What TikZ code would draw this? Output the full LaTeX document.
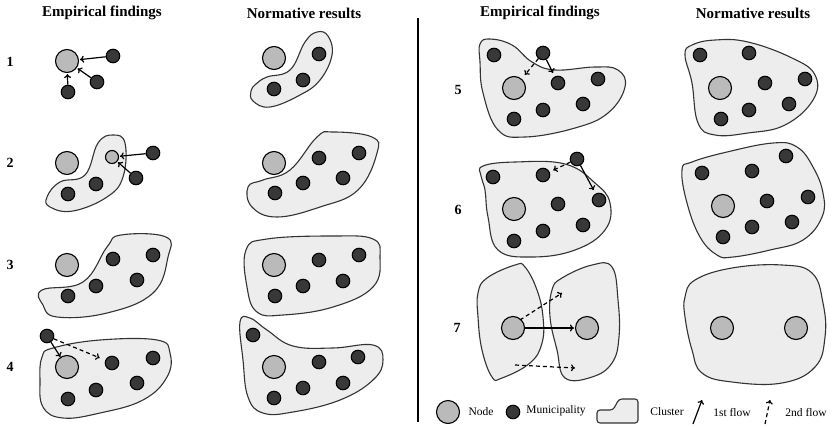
\documentclass[tikz,border=0pt]{standalone}
\usepackage{fontspec}
\setmainfont{Liberation Serif}
\usetikzlibrary{arrows.meta}
\begin{document}
\begin{tikzpicture}[x=1pt,y=-1pt,
  cl/.style={draw=black!80,fill=black!7,line width=1.1pt},
  nd/.style={circle,draw=black,fill=black!27,line width=1.1pt,minimum size=23pt,inner sep=0pt},
  snd/.style={circle,draw=black,fill=black!27,line width=1.1pt,minimum size=13pt,inner sep=0pt},
  mu/.style={circle,draw=black,fill=black!78,line width=1.1pt,minimum size=13.5pt,inner sep=0pt},
  fl/.style={-{To[length=4pt,width=7pt]},line width=1.2pt,shorten >=1pt},
  fltwo/.style={fl,dashed,dash pattern=on 4pt off 3pt},
  ttl/.style={font=\fontsize{15}{18}\selectfont\bfseries},
  rl/.style={font=\fontsize{14}{16}\selectfont\bfseries},
  lg/.style={font=\fontsize{11.5}{13}\selectfont}]
\useasboundingbox (0,0) rectangle (832,426);
\fill[white] (0,0) rectangle (832,426);

% titles
\node[ttl] (t1) at (102,13) {Empirical findings};
\node[ttl] (t2) at (304,13) {Normative results};
\node[ttl] (t3) at (540,13) {Empirical findings};
\node[ttl] (t4) at (753,13) {Normative results};
\coordinate (dtop) at (418,18);
\coordinate (dbot) at (418,422);
\draw[line width=1.5pt] (dtop) -- (dbot);

% row labels
\node[rl] (l1) at (10,62) {1};
\node[rl] (l2) at (10,163) {2};
\node[rl] (l3) at (10,265) {3};
\node[rl] (l4) at (10,367) {4};
\node[rl] (l5) at (458,90) {5};
\node[rl] (l6) at (458,210) {6};
\node[rl] (l7) at (457,328) {7};

% ---------- Row 1
\node[nd] (a1n) at (67,61) {};
\node[mu] (a1m1) at (113,56) {};
\node[mu] (a1m2) at (97,82) {};
\node[mu] (a1m3) at (68,92) {};
\draw[fl] (a1m1) -- (a1n);
\draw[fl] (a1m2) -- (a1n);
\draw[fl] (a1m3) -- (a1n);

\draw[cl] plot[smooth cycle,tension=0.7] coordinates {(251,91) (256,84) (267,77) (290,70) (305,42) (317,32) (328,36) (332,55) (320,80) (300,95) (270,107) (253,101)};
\node[nd] (b1n) at (274,58) {};
\node[mu] (b1m1) at (319,54) {};
\node[mu] (b1m2) at (303,80) {};
\node[mu] (b1m3) at (274,89) {};

% ---------- Row 2
\draw[cl] plot[smooth cycle,tension=0.7] coordinates {(47,197) (60,182) (85,175) (98,143) (113,135) (125,143) (123,177) (107,197) (73,211) (50,207)};
\node[nd] (a2n) at (67,163) {};
\node[snd] (a2s) at (112,157) {};
\node[mu] (a2m1) at (153,153) {};
\node[mu] (a2m2) at (136,178) {};
\node[mu] (a2m3) at (96,184) {};
\node[mu] (a2m4) at (68,194) {};
\draw[fl] (a2m1) -- (a2s);
\draw[fl] (a2m2) -- (a2s);

\draw[cl] plot[smooth cycle,tension=0.7] coordinates {(248,187) (263,180) (290,170) (317,137) (333,132) (372,137) (377,153) (358,190) (320,207) (277,217) (252,207)};
\node[nd] (b2n) at (274,163) {};
\node[mu] (b2m1) at (319,158) {};
\node[mu] (b2m2) at (359,153) {};
\node[mu] (b2m3) at (303,183) {};
\node[mu] (b2m4) at (343,178) {};
\node[mu] (b2m5) at (275,193) {};

% ---------- Row 3
\draw[cl] plot[smooth cycle,tension=0.7] coordinates {(42,290) (83,282) (107,247) (121,235) (166,237) (168,257) (153,293) (107,313) (57,317) (43,305)};
\node[nd] (a3n) at (67,265) {};
\node[mu] (a3m1) at (113,259) {};
\node[mu] (a3m2) at (153,255) {};
\node[mu] (a3m3) at (96,286) {};
\node[mu] (a3m4) at (137,280) {};
\node[mu] (a3m5) at (68,296) {};

\draw[cl] plot[smooth cycle,tension=0.7] coordinates {(246,250) (267,239) (333,236) (373,239) (380,257) (373,287) (333,307) (283,315) (257,312) (247,287)};
\node[nd] (b3n) at (274,265) {};
\node[mu] (b3m1) at (319,260) {};
\node[mu] (b3m2) at (359,255) {};
\node[mu] (b3m3) at (303,286) {};
\node[mu] (b3m4) at (343,281) {};
\node[mu] (b3m5) at (275,296) {};

% ---------- Row 4
\draw[cl] plot[smooth cycle,tension=0.7] coordinates {(42,357) (53,348) (100,340) (157,340) (170,353) (167,377) (143,400) (100,413) (63,418) (43,407) (40,380)};
\node[nd] (a4n) at (67,367) {};
\node[mu] (a4o) at (47,336) {};
\node[mu] (a4m1) at (112,363) {};
\node[mu] (a4m2) at (153,358) {};
\node[mu] (a4m3) at (96,390) {};
\node[mu] (a4m4) at (137,383) {};
\node[mu] (a4m5) at (68,399) {};
\draw[fl,shorten >=0pt] (a4o) -- (a4n);
\draw[fltwo,shorten >=6pt] (a4o) -- (a4m1);

\draw[cl] plot[smooth cycle,tension=0.7] coordinates {(240,322) (250,318) (267,330) (293,346) (333,348) (373,345) (383,360) (373,380) (340,400) (293,412) (263,413) (248,397) (243,360)};
\node[nd] (b4n) at (274,367) {};
\node[mu] (b4o) at (253,335) {};
\node[mu] (b4m1) at (319,362) {};
\node[mu] (b4m2) at (358,357) {};
\node[mu] (b4m3) at (303,388) {};
\node[mu] (b4m4) at (343,383) {};
\node[mu] (b4m5) at (274,398) {};

% ---------- Row 5
\draw[cl] plot[smooth cycle,tension=0.7] coordinates {(480,44) (490,39) (512,45) (532,62) (555,70) (595,67) (618,70) (625,87) (608,113) (575,128) (525,137) (498,130) (483,93) (480,62)};
\node[nd] (c5n) at (514,88) {};
\node[mu] (c5o) at (543,53) {};
\node[mu] (c5m0) at (494,55) {};
\node[mu] (c5m1) at (558,83) {};
\node[mu] (c5m2) at (598,79) {};
\node[mu] (c5m3) at (583,104) {};
\node[mu] (c5m4) at (543,110) {};
\node[mu] (c5m5) at (514,119) {};
\draw[fl,shorten >=4pt] (c5o) -- (c5m1);
\draw[fltwo,shorten >=5pt] (c5o) -- (c5n);

\draw[cl] plot[smooth cycle,tension=0.7] coordinates {(685,55) (692,45) (715,40) (748,42) (792,58) (815,75) (813,100) (785,125) (748,133) (715,135) (698,123) (692,83)};
\node[nd] (d5n) at (720,88) {};
\node[mu] (d5m0) at (700,55) {};
\node[mu] (d5m1) at (749,53) {};
\node[mu] (d5m2) at (765,83) {};
\node[mu] (d5m3) at (805,79) {};
\node[mu] (d5m4) at (789,104) {};
\node[mu] (d5m5) at (749,110) {};
\node[mu] (d5m6) at (721,119) {};

% ---------- Row 6
\draw[cl] plot[smooth cycle,tension=0.7] coordinates {(481,176) (483,166) (515,162) (565,164) (595,183) (610,203) (605,230) (575,250) (532,257) (498,250) (488,217) (485,190)};
\node[nd] (c6n) at (514,209) {};
\node[mu] (c6o) at (577,159) {};
\node[mu] (c6m0) at (493,177) {};
\node[mu] (c6m1) at (543,175) {};
\node[mu] (c6m2) at (558,204) {};
\node[mu] (c6m3) at (599,200) {};
\node[mu] (c6m4) at (583,225) {};
\node[mu] (c6m5) at (543,231) {};
\node[mu] (c6m6) at (514,241) {};
\draw[fl,shorten >=4pt] (c6o) -- (c6m3);
\draw[fltwo,shorten >=4pt] (c6o) -- (c6m1);

\draw[cl] plot[smooth cycle,tension=0.7] coordinates {(682,170) (692,162) (727,152) (773,143) (797,147) (813,167) (823,193) (822,217) (803,240) (770,250) (733,257) (717,255) (700,237) (687,203)};
\node[nd] (d6n) at (723,206) {};
\node[mu] (d6m0) at (702,173) {};
\node[mu] (d6m1) at (752,171) {};
\node[mu] (d6m2) at (786,156) {};
\node[mu] (d6m3) at (767,201) {};
\node[mu] (d6m4) at (808,197) {};
\node[mu] (d6m5) at (792,222) {};
\node[mu] (d6m6) at (752,227) {};
\node[mu] (d6m7) at (723,237) {};

% ---------- Row 7
\draw[cl] plot[smooth cycle,tension=0.7] coordinates {(478,293) (487,278) (515,265) (525,267) (537,290) (543,317) (542,343) (530,363) (502,378) (492,377) (482,350) (478,317)};
\draw[cl] plot[smooth cycle,tension=0.7] coordinates {(552,290) (562,278) (592,265) (612,267) (618,300) (619,337) (612,363) (592,377) (565,378) (557,350) (550,317)};
\node[nd] (c7a) at (513,328) {};
\node[nd] (c7b) at (587,328) {};
\draw[fl] (c7a) -- (c7b);
\coordinate (c7d1s) at (520,320);
\coordinate (c7d1e) at (562,293);
\coordinate (c7d2s) at (515,365);
\coordinate (c7d2e) at (575,368);
\draw[fltwo,shorten >=0pt] (c7d1s) -- (c7d1e);
\draw[fltwo,shorten >=0pt] (c7d2s) -- (c7d2e);

\draw[cl] plot[smooth cycle,tension=0.7] coordinates {(685,297) (695,280) (732,268) (782,265) (812,273) (823,303) (825,337) (815,367) (782,383) (732,382) (702,373) (692,350) (685,317)};
\node[nd] (d7a) at (722,328) {};
\node[nd] (d7b) at (796,328) {};

% ---------- Legend
\node[nd] (lgn) at (448,412) {};
\node[lg] (lgnt) at (481,412) {Node};
\node[mu] (lgm) at (513,412) {};
\node[lg] (lgmt) at (556,411) {Municipality};
\draw[cl,rounded corners=3pt] (597,410) -- (613,410) -- (619,399) -- (638,399) -- (638,423) -- (597,423) -- cycle;
\node[lg] (lgct) at (667,412) {Cluster};
\coordinate (lf1s) at (693,424);
\coordinate (lf1e) at (702,400);
\draw[fl,shorten >=0pt] (lf1s) -- (lf1e);
\node[lg] (lgf1) at (732,412) {1st flow};
\coordinate (lf2s) at (765,424);
\coordinate (lf2e) at (770,400);
\draw[fltwo,shorten >=0pt] (lf2s) -- (lf2e);
\node[lg] (lgf2) at (806,412) {2nd flow};
\end{tikzpicture}
\end{document}
